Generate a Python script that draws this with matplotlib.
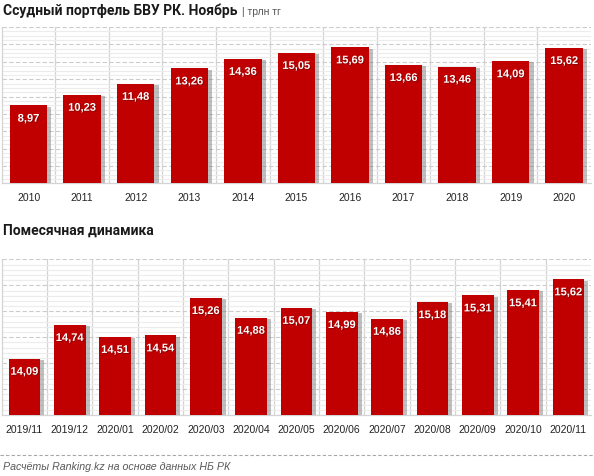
import matplotlib.pyplot as plt
import matplotlib.patheffects as pe
from matplotlib.ticker import MultipleLocator, FixedLocator
from matplotlib.lines import Line2D

# годовые данные, трлн тг
years = ['2010', '2011', '2012', '2013', '2014', '2015', '2016', '2017', '2018', '2019', '2020']
year_vals = [8.97, 10.23, 11.48, 13.26, 14.36, 15.05, 15.69, 13.66, 13.46, 14.09, 15.62]

# помесячно
months = ['2019/11', '2019/12', '2020/01', '2020/02', '2020/03', '2020/04', '2020/05',
          '2020/06', '2020/07', '2020/08', '2020/09', '2020/10', '2020/11']
month_vals = [14.09, 14.74, 14.51, 14.54, 15.26, 14.88, 15.07, 14.99, 14.86, 15.18, 15.31, 15.41, 15.62]

RED = '#c00000'
FONT = 'Liberation Sans'
TFONT = 'Roboto'


def bar_chart(ax, labels, vals, ymin, ymax, major, minor):
    x = range(len(labels))
    bars = ax.bar(x, vals, width=0.7, color=RED, zorder=3)
    for b in bars:
        b.set_path_effects([pe.SimplePatchShadow(offset=(3, -1), shadow_rgbFace='0.45', alpha=0.45),
                            pe.Normal()])
    for xi, v in zip(x, vals):
        ax.annotate(f'{v:.2f}'.replace('.', ','), (xi, v), xytext=(0, -9.5),
                    textcoords='offset points', ha='center', va='center',
                    color='white', fontsize=8, fontweight='bold', family=FONT, zorder=4,
                    path_effects=[pe.withSimplePatchShadow(offset=(0.6, -0.6), shadow_rgbFace='#600000', alpha=0.6)])
    ax.set_xlim(-0.5, len(labels) - 0.5)
    ax.set_ylim(ymin, ymax)
    ax.set_xticks(list(x))
    ax.set_xticklabels(labels, family=FONT, fontsize=7.5, color='#222222')
    ax.xaxis.set_minor_locator(FixedLocator([i + 0.5 for i in range(len(labels) - 1)]))
    ax.yaxis.set_major_locator(MultipleLocator(major))
    ax.yaxis.set_minor_locator(MultipleLocator(minor))
    ax.set_yticklabels([])
    ax.tick_params(which='both', length=0, pad=7)
    ax.grid(which='minor', axis='y', color='#ececec', lw=0.8)
    ax.grid(which='major', axis='y', color='#cccccc', lw=0.8, ls=(0, (4, 2)))
    ax.grid(which='minor', axis='x', color='#d4d4d4', lw=0.9)
    ax.set_axisbelow(True)
    for s in ['top', 'right']:
        ax.spines[s].set_visible(False)
    for s in ['left', 'bottom']:
        ax.spines[s].set_color('#d4d4d4')
        ax.spines[s].set_linewidth(0.9)


fig = plt.figure(figsize=(5.94, 4.76), dpi=100)

ax1 = fig.add_axes([0.003, 0.615, 0.992, 0.328])
bar_chart(ax1, years, year_vals, 0, 18, 2, 0.5)

ax2 = fig.add_axes([0.003, 0.128, 0.992, 0.327])
bar_chart(ax2, months, month_vals, 13, 16, 0.5, 0.1)

t = fig.text(0.005, 0.977, 'Ссудный портфель БВУ РК. Ноябрь', family=TFONT, fontsize=10,
             fontweight='bold', color='#1a1a1a', va='center')
fig.canvas.draw()
bb = t.get_window_extent()
fig.text(bb.x1 / fig.bbox.width + 0.008, 0.975, '| трлн тг', family=FONT, fontsize=7.5,
         color='#595959', va='center')

fig.text(0.005, 0.516, 'Помесячная динамика', family=TFONT, fontsize=10,
         fontweight='bold', color='#1a1a1a', va='center')

fig.add_artist(Line2D([0, 1], [0.044, 0.044], transform=fig.transFigure,
                      color='#a6a6a6', lw=0.8, ls=(0, (3, 2))))
fig.text(0.005, 0.018, 'Расчёты Ranking.kz на основе данных НБ РК', family=FONT,
         fontsize=7.7, style='italic', color='#595959', va='center')

fig.savefig('out.png', dpi=100)
